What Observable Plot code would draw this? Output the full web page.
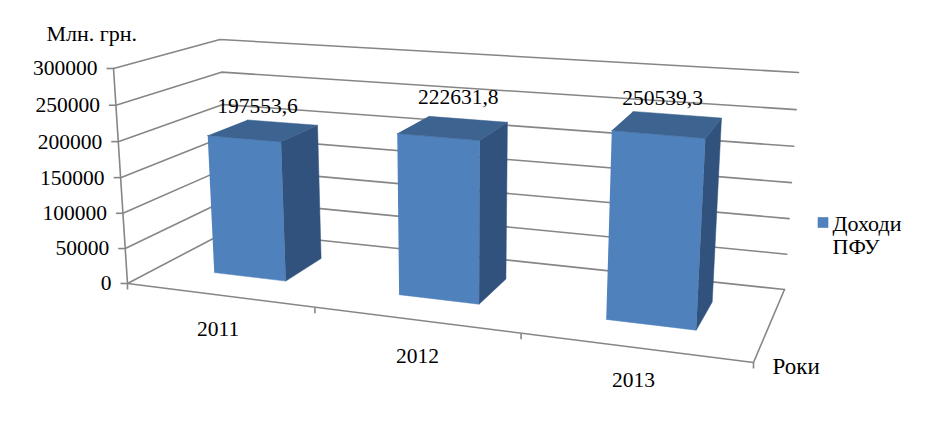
<!DOCTYPE html>
<html><head><meta charset="utf-8">
<script src="https://cdn.jsdelivr.net/npm/d3@7"></script>
<script src="https://cdn.jsdelivr.net/npm/@observablehq/plot@0.6"></script>
<style>html,body{margin:0;padding:0;background:#fff}</style>
</head><body><div id="chart"></div>
<script>
const categories = ["2011", "2012", "2013"];
const values = [197553.6, 222631.8, 250539.3];
const valueLabels = ["197553,6", "222631,8", "250539,3"];
const ticks = [0, 50000, 100000, 150000, 200000, 250000, 300000];
const seriesName = ["Доходи", "ПФУ"];
const maxValue = 300000;

// 3D box as drawn on the page: floor corners, wall height at each corner, vanishing point of the verticals
const floorQuad = [[127,283],[753,362],[784,289],[228,230]];
const cornerHeights = [215,240,217,191];
const vanish = [457,5355];
const heightWarp = -0.03;
const gapShare = 0.4, depthFrom = 0.3, depthTo = 0.7, barShift = 0.004;
const labelNudge = [[-6,-24],[5,-31],[-5,-26]];
const catNudge = [[1,0],[5,3],[1,-1]];
const edgeNudge = [0,3,2,0];

function homography(q){
  const [[x0,y0],[x1,y1],[x2,y2],[x3,y3]] = q;
  const dx1=x1-x2,dx2=x3-x2,sx=x0-x1+x2-x3,dy1=y1-y2,dy2=y3-y2,sy=y0-y1+y2-y3;
  const den=dx1*dy2-dx2*dy1;
  const g=(sx*dy2-dx2*sy)/den,h=(dx1*sy-sx*dy1)/den;
  const a=x1-x0+g*x1,b=x3-x0+h*x3,c=x0,d=y1-y0+g*y1,e=y3-y0+h*y3,f=y0;
  return (u,w)=>{const k=g*u+h*w+1;return [(a*u+b*w+c)/k,(d*u+e*w+f)/k]};
}
const F=homography(floorQuad);
const P=(u,v,w)=>{
  const [fx,fy]=F(u,w),[h0,h1,h2,h3]=cornerHeights;
  const H=h0*(1-u)*(1-w)+h1*u*(1-w)+h2*u*w+h3*(1-u)*w;
  const t=v/maxValue, tw=t*(1+heightWarp)/(1+heightWarp*t);
  const y=fy-H*tw;
  return {x:fx+(y-fy)*(vanish[0]-fx)/(vanish[1]-fy),y};
};
const tag=(pts,id,extra={})=>pts.map(p=>({...p,id,...extra}));

const grid=ticks.flatMap(t=>tag([P(0,t,0),P(0,t,1),P(1,t,1)],"g"+t));
const frame=[...tag([P(0,0,0),P(0,maxValue,0)],"a"),...tag([P(0,0,0),P(1,0,0),P(1,0,1)],"b")];
const valueTicks=ticks.map(t=>({...P(0,t,0),t}));
const catEdges=d3.range(categories.length+1).map(i=>{const p=P(i/categories.length,0,0);return {x:p.x+edgeNudge[i],y:p.y+edgeNudge[i]*.126}});
const catLabels=categories.map((c,i)=>{const p=P((i+.5)/categories.length,0,0);return {x:p.x+catNudge[i][0],y:p.y+34+catNudge[i][1],c}});

const faces=values.flatMap((v,i)=>{
  const n=categories.length,u0=(i+.5-gapShare/2)/n+barShift,u1=(i+.5+gapShare/2)/n+barShift;
  return [
    ...tag([P(u0,0,depthFrom),P(u1,0,depthFrom),P(u1,v,depthFrom),P(u0,v,depthFrom)],"f"+i,{color:"#4f81bd"}),
    ...tag([P(u1,0,depthFrom),P(u1,0,depthTo),P(u1,v,depthTo),P(u1,v,depthFrom)],"s"+i,{color:"#31527c"}),
    ...tag([P(u0,v,depthFrom),P(u1,v,depthFrom),P(u1,v,depthTo),P(u0,v,depthTo)],"t"+i,{color:"#3d6390"})
  ];
});
const dataLabels=values.map((v,i)=>{
  const p=P((i+.5)/categories.length+barShift,v,(depthFrom+depthTo)/2);
  return {x:p.x+labelNudge[i][0],y:p.y+labelNudge[i][1],s:valueLabels[i]};
});

const gray="#868686", sw=1.6;
const txt={fill:"#000",fontSize:21.5,textAnchor:"middle",lineAnchor:"middle"};
document.getElementById("chart").append(Plot.plot({
  width:926,height:443,margin:0,
  style:{fontFamily:"'Liberation Serif',serif",background:"#fff",overflow:"visible"},
  x:{axis:null,domain:[0,926],range:[0,926]},
  y:{axis:null,domain:[0,443],range:[0,443]},
  color:{type:"identity"},
  marks:[
    Plot.line(grid,{x:"x",y:"y",z:"id",stroke:gray,strokeWidth:sw}),
    Plot.line(frame,{x:"x",y:"y",z:"id",stroke:gray,strokeWidth:sw}),
    Plot.link(valueTicks,{x1:"x",y1:"y",x2:d=>d.x-7,y2:"y",stroke:gray,strokeWidth:sw}),
    Plot.link(catEdges,{x1:"x",y1:"y",x2:"x",y2:d=>d.y+6,stroke:gray,strokeWidth:sw}),
    Plot.line(faces,{x:"x",y:"y",z:"id",fill:"color",stroke:"color",strokeWidth:.5}),
    Plot.text(valueTicks,{x:d=>d.x-16,y:"y",text:d=>String(d.t),...txt,textAnchor:"end"}),
    Plot.text(catLabels,{x:"x",y:"y",text:"c",...txt}),
    Plot.text(dataLabels,{x:"x",y:"y",text:"s",...txt}),
    Plot.text(["Млн. грн."],{x:[46],y:[33],text:d=>d,...txt,fontSize:22,textAnchor:"start"}),
    Plot.text(["Роки"],{x:[772],y:[366],text:d=>d,...txt,fontSize:23,textAnchor:"start"}),
    Plot.dot([0],{x:[822.5],y:[222],symbol:"square",r:6,fill:"#4f81bd"}),
    Plot.text(seriesName,{x:[832,832],y:[223,246],text:d=>d,...txt,fontSize:22,textAnchor:"start"})
  ]
}));
</script></body></html>
